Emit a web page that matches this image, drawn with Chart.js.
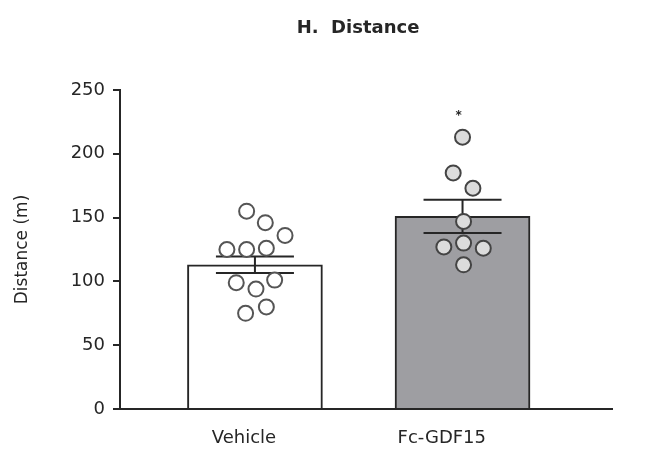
<!DOCTYPE html>
<html>
<head>
<meta charset="utf-8">
<script src="https://cdn.jsdelivr.net/npm/chart.js@4.4.1/dist/chart.umd.min.js"></script>
<style>
  body { margin: 0; background: #fff; }
  #wrap { width: 672px; height: 453px; position: relative; }
</style>
</head>
<body>
<div id="wrap"><canvas id="distanceChart"></canvas></div>
<script>
// groups and summary values
const groups = ["Vehicle", "Fc-GDF15"];
const means = [113, 151];
const sems = [6.5, 13];
const sigMarks = ["", "*"];

// individual animals (distance, m) and their horizontal jitter within the group
const vehiclePoints = [155, 146, 136, 125, 125, 126, 99, 94, 101, 75, 80];
const vehicleJitter = [-0.04, 0.05, 0.145, -0.135, -0.04, 0.055, -0.09, 0.005, 0.095, -0.045, 0.055];
const gdfPoints = [213, 185, 173, 147, 127, 130, 126, 113];
const gdfJitter = [0, -0.045, 0.05, 0.005, -0.09, 0.005, 0.1, 0.005];

const yTicks = [0, 50, 100, 150, 200, 250];

const FONT = "'DejaVu Sans', sans-serif";
const INK = "#262626";

const toXY = (vals, jit, pos) => vals.map((v, i) => ({ x: pos + jit[i], y: v }));

const errorBars = {
  id: "errorBars",
  afterDatasetDraw(chart, args) {
    if (args.index !== 0) return;
    const { ctx, scales } = chart;
    ctx.save();
    ctx.strokeStyle = INK;
    ctx.lineWidth = 2;
    means.forEach((m, i) => {
      const x = scales.x.getPixelForValue(i + 1);
      const hi = scales.y.getPixelForValue(m + sems[i]);
      const lo = scales.y.getPixelForValue(m - sems[i]);
      ctx.beginPath();
      ctx.moveTo(x, lo); ctx.lineTo(x, hi);
      ctx.moveTo(x - 39, hi); ctx.lineTo(x + 39, hi);
      ctx.moveTo(x - 39, lo); ctx.lineTo(x + 39, lo);
      ctx.stroke();
    });
    ctx.restore();
  },
  afterDraw(chart) {
    const { ctx, scales } = chart;
    ctx.save();
    ctx.fillStyle = INK;
    ctx.textAlign = "center";
    ctx.textBaseline = "middle";
    // significance marks above the highest point
    const tops = [Math.max(...vehiclePoints), Math.max(...gdfPoints)];
    sigMarks.forEach((s, i) => {
      if (!s) return;
      ctx.font = "bold 12px " + FONT;
      ctx.fillText(s, scales.x.getPixelForValue(i + 1) - 4, scales.y.getPixelForValue(tops[i]) - 21);
    });
    // panel title
    ctx.font = "bold 18px " + FONT;
    ctx.fillText("H.  Distance", 358, 28);
    ctx.restore();
  }
};

const ctx = document.getElementById("distanceChart").getContext("2d");
new Chart(ctx, {
  type: "bar",
  data: {
    datasets: [
      {
        type: "bar",
        data: means.map((m, i) => ({ x: i + 1, y: m })),
        backgroundColor: ["#ffffff", "#9e9ea2"],
        borderColor: INK,
        borderWidth: 2,
        barThickness: 135,
        order: 2
      },
      {
        type: "scatter",
        data: toXY(vehiclePoints, vehicleJitter, 1),
        pointRadius: 7.5,
        pointBorderWidth: 2,
        pointBackgroundColor: "#ffffff",
        pointBorderColor: "#555555",
        clip: false,
        order: 1
      },
      {
        type: "scatter",
        data: toXY(gdfPoints, gdfJitter, 2),
        pointRadius: 7.5,
        pointBorderWidth: 2,
        pointBackgroundColor: "#dcdcdc",
        pointBorderColor: "#444444",
        clip: false,
        order: 1
      }
    ]
  },
  options: {
    responsive: true,
    maintainAspectRatio: false,
    animation: false,
    layout: { padding: { top: 90, right: 60, bottom: 0, left: 0 } },
    plugins: {
      legend: { display: false },
      tooltip: { enabled: false },
      title: { display: false }
    },
    scales: {
      x: {
        type: "linear",
        min: 0.35,
        max: 2.72,
        offset: false,
        grid: { display: false, drawTicks: false },
        border: { display: true, color: INK, width: 2 },
        // group labels sit a little left of the bar centres, as in the figure
        afterBuildTicks: (scale) => { scale.ticks = [{ value: 0.947 }, { value: 1.9 }]; },
        afterFit: (scale) => { scale.height = 44; },
        ticks: {
          padding: 19,
          color: INK,
          font: { family: FONT, size: 18 },
          callback: (v, i) => groups[i] || ""
        }
      },
      y: {
        min: 0,
        max: 250,
        afterBuildTicks: (scale) => { scale.ticks = yTicks.map((v) => ({ value: v })); },
        afterFit: (scale) => { scale.width = 120; },
        grid: { drawOnChartArea: false, drawTicks: true, tickLength: 7, color: INK, lineWidth: 2 },
        border: { display: true, color: INK, width: 2 },
        ticks: {
          padding: 8,
          color: INK,
          font: { family: FONT, size: 18 }
        },
        title: {
          display: true,
          text: "Distance (m)",
          color: INK,
          font: { family: FONT, size: 17 },
          padding: { top: 12, bottom: 0 }
        }
      }
    }
  },
  plugins: [errorBars]
});
</script>
</body>
</html>
